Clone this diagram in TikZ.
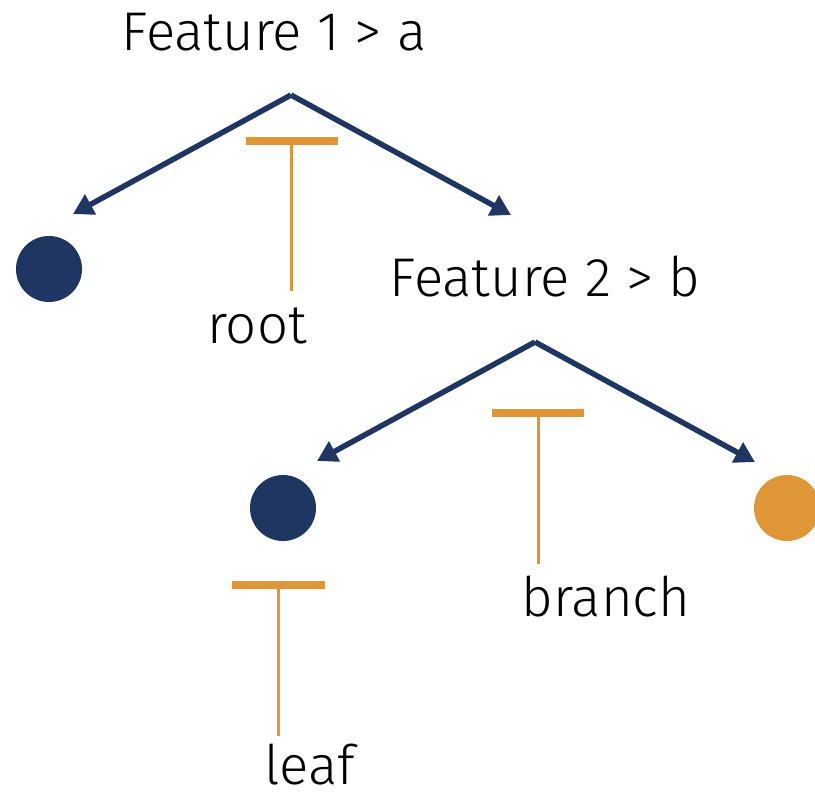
\documentclass[tikz,border=0pt]{standalone}
\usepackage{fontspec}
\setmainfont{Fira Sans}[UprightFont={* Light}]
\usetikzlibrary{arrows.meta}
\definecolor{navy}{HTML}{1F3562}
\definecolor{amber}{HTML}{DF9636}
\begin{document}
\begin{tikzpicture}[x=1pt,y=-1pt,
  lbl/.style={anchor=base,inner sep=0pt,font=\fontsize{54.5}{62}\selectfont},
  split/.style={draw=navy,line width=5.5pt,-{Triangle[length=20pt,width=22pt]}},
  dot/.style={circle,inner sep=0pt,minimum size=66pt},
  tbar/.style={draw=amber,line width=8pt},
  tstem/.style={draw=amber,line width=3pt}]
\useasboundingbox (0,0) rectangle (815,793);

% first split
\node[lbl] (f1) at (274,50) {Feature 1 > a};
\coordinate (a1) at (291,95);
\coordinate (l1) at (73,214);
\coordinate (r1) at (511,215);
\draw[split] (a1) -- (l1);
\draw[split] (a1) -- (r1);
\node[dot,fill=navy] (d1) at (49,269) {};

% root marker
\coordinate (rb1) at (246,141);
\coordinate (rb2) at (338,141);
\coordinate (rt) at (291,141);
\coordinate (rs) at (291,291);
\draw[tbar] (rb1) -- (rb2);
\draw[tstem] (rt) -- (rs);
\node[lbl] (root) at (257,343) {root};

% second split
\node[lbl] (f2) at (545,296) {Feature 2 > b};
\coordinate (a2) at (535,342);
\coordinate (l2) at (317,461);
\coordinate (r2) at (755,462);
\draw[split] (a2) -- (l2);
\draw[split] (a2) -- (r2);
\node[dot,fill=navy] (d2) at (283,508) {};
\node[dot,fill=amber] (d3) at (787,508) {};

% branch marker
\coordinate (bb1) at (492,413);
\coordinate (bb2) at (584,413);
\coordinate (bt) at (538,413);
\coordinate (bs) at (538,564);
\draw[tbar] (bb1) -- (bb2);
\draw[tstem] (bt) -- (bs);
\node[lbl] (branch) at (606,616) {branch};

% leaf marker
\coordinate (lb1) at (232,585);
\coordinate (lb2) at (325,585);
\coordinate (lt) at (278,585);
\coordinate (ls) at (278,736);
\draw[tbar] (lb1) -- (lb2);
\draw[tstem] (lt) -- (ls);
\node[lbl] (leaf) at (310,784) {leaf};
\end{tikzpicture}
\end{document}
